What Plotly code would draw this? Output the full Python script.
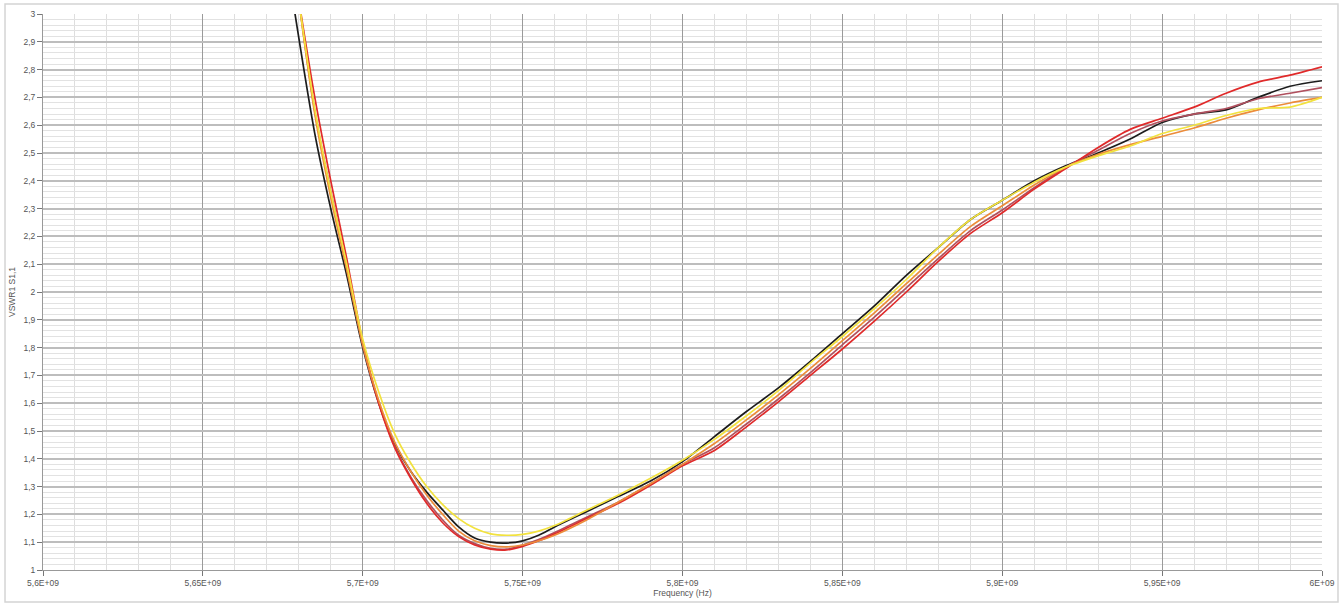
import plotly.graph_objects as go

# Frequency grid (GHz) for the measured sweeps
freq_ghz = [5.680, 5.685, 5.690, 5.695, 5.700, 5.705, 5.710, 5.715, 5.720, 5.725,
            5.730, 5.735, 5.740, 5.745, 5.750, 5.755, 5.760, 5.770, 5.780, 5.790,
            5.800, 5.810, 5.820, 5.830, 5.840, 5.850, 5.860, 5.870, 5.880, 5.890,
            5.900, 5.910, 5.920, 5.930, 5.940, 5.950, 5.960, 5.970, 5.980, 5.990, 6.000]

freq_black_ghz = [5.678, 5.685, 5.690, 5.695, 5.700, 5.705, 5.710, 5.715, 5.720, 5.725,
                  5.730, 5.735, 5.740, 5.745, 5.750, 5.755, 5.760, 5.770, 5.780, 5.790,
                  5.800, 5.810, 5.820, 5.830, 5.840, 5.850, 5.860, 5.870, 5.880, 5.890,
                  5.900, 5.910, 5.920, 5.930, 5.940, 5.950, 5.960, 5.970, 5.980, 5.990, 6.000]

vswr_black = [3.06, 2.57, 2.30, 2.06, 1.80, 1.60, 1.455, 1.355, 1.28, 1.216,
              1.155, 1.115, 1.100, 1.097, 1.105, 1.125, 1.155, 1.21, 1.265, 1.32,
              1.39, 1.48, 1.57, 1.655, 1.75, 1.85, 1.95, 2.06, 2.16, 2.26,
              2.33, 2.40, 2.455, 2.50, 2.55, 2.61, 2.64, 2.655, 2.70, 2.74, 2.76]

vswr_red = [3.05, 2.70, 2.40, 2.12, 1.82, 1.60, 1.44, 1.33, 1.24, 1.17,
            1.12, 1.09, 1.075, 1.072, 1.085, 1.105, 1.13, 1.185, 1.24, 1.305,
            1.375, 1.43, 1.515, 1.605, 1.70, 1.795, 1.895, 2.00, 2.11, 2.21,
            2.285, 2.37, 2.445, 2.52, 2.585, 2.625, 2.665, 2.715, 2.755, 2.78, 2.81]

vswr_maroon = [3.05, 2.65, 2.36, 2.09, 1.81, 1.60, 1.445, 1.335, 1.25, 1.18,
               1.125, 1.095, 1.078, 1.075, 1.09, 1.11, 1.135, 1.19, 1.245, 1.31,
               1.38, 1.44, 1.525, 1.615, 1.71, 1.81, 1.91, 2.015, 2.12, 2.22,
               2.295, 2.375, 2.45, 2.51, 2.57, 2.615, 2.64, 2.66, 2.695, 2.715, 2.735]

vswr_orange = [3.05, 2.64, 2.34, 2.08, 1.81, 1.61, 1.46, 1.355, 1.27, 1.20,
               1.14, 1.105, 1.088, 1.083, 1.09, 1.105, 1.125, 1.18, 1.245, 1.31,
               1.38, 1.455, 1.54, 1.63, 1.725, 1.825, 1.925, 2.03, 2.135, 2.235,
               2.31, 2.385, 2.45, 2.495, 2.53, 2.56, 2.59, 2.625, 2.655, 2.68, 2.70]

vswr_yellow = [3.05, 2.66, 2.36, 2.10, 1.83, 1.64, 1.49, 1.385, 1.30, 1.235,
               1.185, 1.15, 1.13, 1.125, 1.128, 1.14, 1.16, 1.215, 1.27, 1.33,
               1.395, 1.47, 1.555, 1.645, 1.745, 1.84, 1.94, 2.045, 2.16, 2.26,
               2.33, 2.395, 2.45, 2.49, 2.525, 2.57, 2.60, 2.635, 2.66, 2.665, 2.70]

x_tick_vals = [5.60e9, 5.65e9, 5.70e9, 5.75e9, 5.80e9, 5.85e9, 5.90e9, 5.95e9, 6.00e9]
x_tick_text = ["5,6E+09", "5,65E+09", "5,7E+09", "5,75E+09", "5,8E+09",
               "5,85E+09", "5,9E+09", "5,95E+09", "6E+09"]
y_tick_vals = [1.0, 1.1, 1.2, 1.3, 1.4, 1.5, 1.6, 1.7, 1.8, 1.9, 2.0,
               2.1, 2.2, 2.3, 2.4, 2.5, 2.6, 2.7, 2.8, 2.9, 3.0]
y_tick_text = ["1", "1,1", "1,2", "1,3", "1,4", "1,5", "1,6", "1,7", "1,8", "1,9", "2",
               "2,1", "2,2", "2,3", "2,4", "2,5", "2,6", "2,7", "2,8", "2,9", "3"]

freq_hz = [f * 1e9 for f in freq_ghz]
freq_black_hz = [f * 1e9 for f in freq_black_ghz]

series = [
    ("Sample 1", freq_black_hz, vswr_black, "#1c1c1c"),
    ("Sample 2", freq_hz, vswr_maroon, "#b0505e"),
    ("Sample 3", freq_hz, vswr_red, "#e02a2a"),
    ("Sample 4", freq_hz, vswr_orange, "#ec8c3a"),
    ("Sample 5", freq_hz, vswr_yellow, "#f2e23e"),
]

fig = go.Figure()
for name, xs, ys, col in series:
    fig.add_trace(go.Scatter(x=xs, y=ys, mode="lines", name=name,
                             line=dict(color=col, width=1.7, shape="spline", smoothing=0.8)))

font_fam = "Liberation Sans, Arial, sans-serif"
fig.update_layout(
    width=1343, height=604,
    margin=dict(l=43, r=21, t=14, b=34, autoexpand=False),
    paper_bgcolor="white", plot_bgcolor="white",
    showlegend=False,
    font=dict(family=font_fam, size=8.5, color="#555555"),
    xaxis=dict(
        range=[5.6e9, 6.0e9], automargin=False,
        tickvals=x_tick_vals, ticktext=x_tick_text,
        showgrid=True, gridcolor="#9a9a9a", gridwidth=1,
        minor=dict(dtick=0.01e9, tick0=5.6e9, showgrid=True, gridcolor="#dedede", gridwidth=1),
        ticks="outside", ticklen=5, tickcolor="#777777",
        showline=True, linecolor="#999999", linewidth=1,
        zeroline=False,
        title=dict(text="Frequency (Hz)", standoff=2, font=dict(size=8.5, color="#555555")),
        tickfont=dict(size=8.5, color="#555555"),
    ),
    yaxis=dict(
        range=[1.0, 3.0], automargin=False,
        tickvals=y_tick_vals, ticktext=y_tick_text,
        showgrid=True, gridcolor="#bdbdbd", gridwidth=1.5,
        minor=dict(dtick=0.02, tick0=1.0, showgrid=True, gridcolor="#e2e2e2", gridwidth=1),
        ticks="outside", ticklen=5, tickcolor="#777777",
        showline=True, linecolor="#999999", linewidth=1,
        zeroline=False,
        title=dict(text="VSWR1 S1,1", standoff=6, font=dict(size=8.5, color="#555555")),
        tickfont=dict(size=8.5, color="#555555"),
    ),
)

# light frame around the whole chart
fig.add_shape(type="rect", xref="paper", yref="paper",
              x0=-0.0297, x1=1.0125, y0=-0.0576, y1=1.018,
              line=dict(color="#d4d4d4", width=1.5), fillcolor="rgba(0,0,0,0)", layer="below")

fig.write_html("out.html", config={"displayModeBar": False},
               post_script="document.body.style.margin='0';document.body.style.overflow='hidden';")
